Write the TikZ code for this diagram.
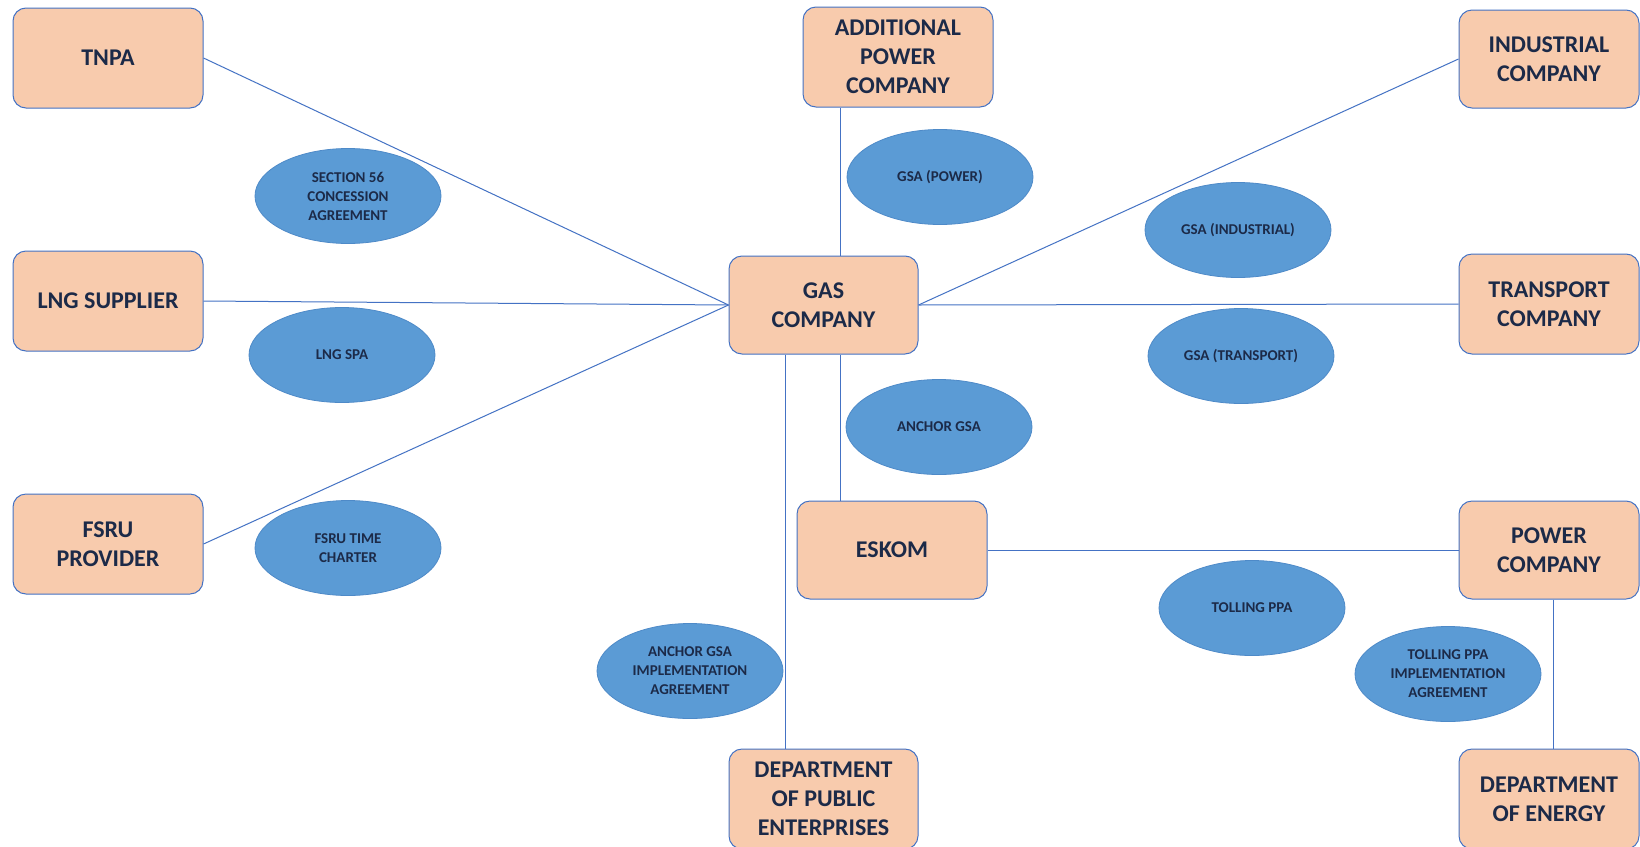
\documentclass[tikz,border=0pt]{standalone}
\usepackage{fontspec}
\setmainfont{Carlito}
\usetikzlibrary{shapes.geometric}

\definecolor{boxfill}{HTML}{F8CBAD}
\definecolor{boxline}{HTML}{4472C4}
\definecolor{ovalfill}{HTML}{5B9BD5}
\definecolor{ovalline}{HTML}{4E8AC8}
\definecolor{inktext}{HTML}{1C2A48}

\tikzset{
  party/.style={draw=boxline, fill=boxfill, rounded corners=13pt, line width=1pt,
    minimum width=190pt, minimum height=100pt, inner sep=0pt, align=center,
    text=inktext, font=\fontsize{24}{29}\selectfont\bfseries},
  deal/.style={ellipse, draw=ovalline, fill=ovalfill, line width=0.8pt,
    minimum width=186pt, minimum height=95pt, inner sep=0pt, align=center,
    text=inktext, font=\fontsize{15}{19}\selectfont\bfseries},
  link/.style={draw=boxline, line width=1pt}
}

\begin{document}
\begin{tikzpicture}[x=1pt, y=-1pt]

        \useasboundingbox[fill=white] (0,0) rectangle (1640,846);

        % Left column
        \node[party] (tnpa) at (108,58) {TNPA};
        \node[party] (lng) at (108,301) {LNG SUPPLIER};
        \node[party] (fsru) at (108,544) {FSRU\\PROVIDER};

        % Middle column
        \node[party] (addpower) at (898,57) {ADDITIONAL\\POWER\\COMPANY};
        \node[party, minimum width=189pt, minimum height=98pt] (gas) at (823.5,305) {GAS\\COMPANY};
        \node[party, minimum height=98pt] (eskom) at (892,550) {ESKOM};
        \node[party, minimum width=189pt] (dpe) at (823.5,799) {DEPARTMENT\\OF PUBLIC\\ENTERPRISES};

        % Right column
        \node[party, minimum width=180pt, minimum height=98pt] (industrial) at (1549,59) {INDUSTRIAL\\COMPANY};
        \node[party, minimum width=180pt] (transport) at (1549,304) {TRANSPORT\\COMPANY};
        \node[party, minimum width=180pt, minimum height=98pt] (powerco) at (1549,550) {POWER\\COMPANY};
        \node[party, minimum width=180pt] (doe) at (1549,799) {DEPARTMENT\\OF ENERGY};

        % Connectors into the gas company
        \draw[link] (tnpa.east) -- (gas.west);
        \draw[link] (lng.east) -- (gas.west);
        \draw[link] (fsru.east) -- (gas.west);
        \draw[link] (gas.east) -- (industrial.west);
        \draw[link] (gas.east) -- (transport.west);

        % Vertical connectors
        \coordinate (upx) at (840,0);
        \coordinate (dpx) at (785,0);
        \coordinate (eqx) at (1553,0);
        \draw[link] (addpower.south -| upx) -- (gas.north -| upx);
        \draw[link] (gas.south -| upx) -- (eskom.north -| upx);
        \draw[link] (gas.south -| dpx) -- (dpe.north -| dpx);
        \draw[link] (powerco.south -| eqx) -- (doe.north -| eqx);

        % Eskom to power company
        \draw[link] (eskom.east) -- (powerco.west);

        % Agreements
        \node[deal] (sec56) at (348,196) {SECTION 56\\CONCESSION\\AGREEMENT};
        \node[deal] (lngspa) at (342,355) {LNG SPA};
        \node[deal] (charter) at (348,548) {FSRU TIME\\CHARTER};
        \node[deal] (gsapower) at (940,177) {GSA (POWER)};
        \node[deal] (gsaind) at (1238,230) {GSA (INDUSTRIAL)};
        \node[deal] (gsatrans) at (1241,356) {GSA (TRANSPORT)};
        \node[deal] (anchor) at (939,427) {ANCHOR GSA};
        \node[deal] (anchorimpl) at (690,671) {ANCHOR GSA\\IMPLEMENTATION\\AGREEMENT};
        \node[deal] (tolling) at (1252,608) {TOLLING PPA};
        \node[deal] (tollingimpl) at (1448,674) {TOLLING PPA\\IMPLEMENTATION\\AGREEMENT};

\end{tikzpicture}
\end{document}
